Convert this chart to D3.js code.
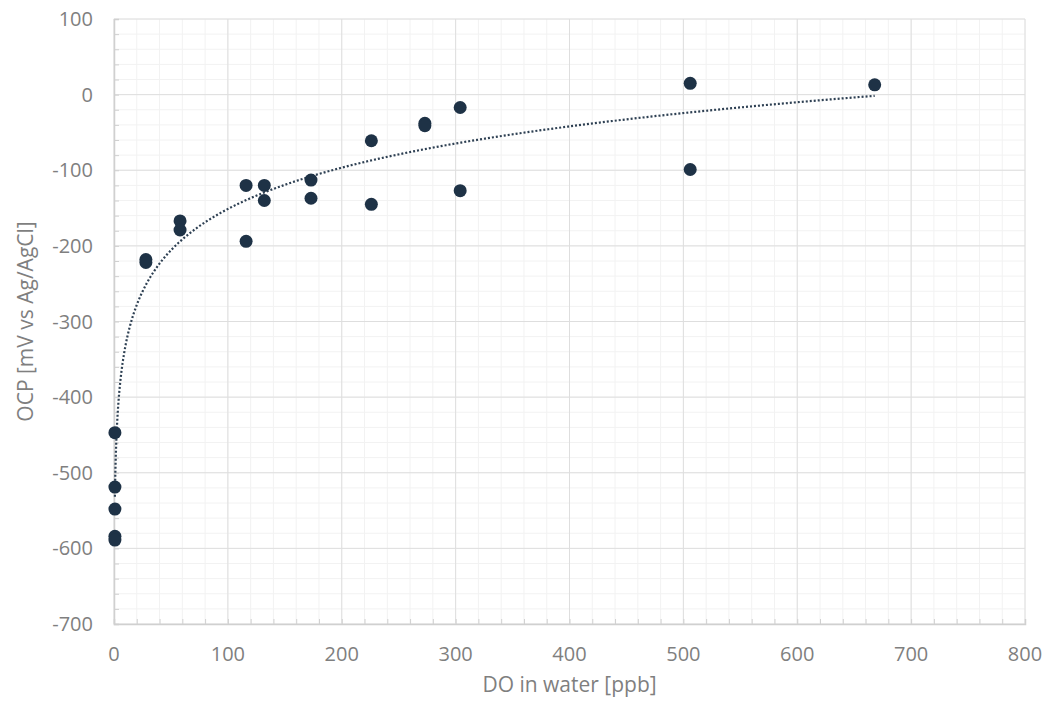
<!DOCTYPE html>
<html lang="en">
<head>
  <meta charset="utf-8">
  <title>OCP vs DO</title>
  <script src="https://cdnjs.cloudflare.com/ajax/libs/d3/7.8.5/d3.min.js"></script>
  <style>
    body { margin: 0; background: #fff; }
    .tick-label { font-family: "Open Sans", Roboto, sans-serif; font-size: 20px; fill: #7f7f7f; }
    .axis-title { font-family: "Open Sans", Roboto, sans-serif; font-size: 21px; fill: #7f7f7f; }
  </style>
</head>
<body>
<svg id="chart" width="1049" height="701"></svg>
<script>
  // data
  var doValues  = [0.8, 0.8, 0.8, 0.8, 0.8, 28, 28, 58, 58, 116, 116, 132, 132, 173, 173, 226, 226, 273, 273, 304, 304, 506, 506, 668];
  var ocpValues = [-447, -519, -548, -584, -589, -218, -222, -167, -179, -120, -194, -120, -140, -113, -137, -61, -145, -38, -41, -17, -127, 15, -99, 13];
  var xTicks = [0, 100, 200, 300, 400, 500, 600, 700, 800];
  var yTicks = [100, 0, -100, -200, -300, -400, -500, -600, -700];

  var margin = { left: 114, right: 24, top: 19, bottom: 77 };
  var width = 1049 - margin.left - margin.right;
  var height = 701 - margin.top - margin.bottom;

  var svg = d3.select("#chart");
  var g = svg.append("g").attr("transform", "translate(" + margin.left + "," + margin.top + ")");

  var x = d3.scaleLinear().domain([0, 800]).range([0, width]);
  var y = d3.scaleLinear().domain([-700, 100]).range([height, 0]);

  // minor grid every 20
  var minor = d3.range(0, 801, 20);
  var minorY = d3.range(-700, 101, 20);
  g.selectAll(".mx").data(minor).enter().append("line")
    .attr("x1", d => x(d)).attr("x2", d => x(d)).attr("y1", 0).attr("y2", height)
    .attr("stroke", "#f2f2f2").attr("stroke-width", 1);
  g.selectAll(".my").data(minorY).enter().append("line")
    .attr("y1", d => y(d)).attr("y2", d => y(d)).attr("x1", 0).attr("x2", width)
    .attr("stroke", "#f2f2f2").attr("stroke-width", 1);

  // major grid
  g.selectAll(".gx").data(xTicks).enter().append("line")
    .attr("x1", d => x(d)).attr("x2", d => x(d)).attr("y1", 0).attr("y2", height)
    .attr("stroke", "#dedede").attr("stroke-width", 1);
  g.selectAll(".gy").data(yTicks).enter().append("line")
    .attr("y1", d => y(d)).attr("y2", d => y(d)).attr("x1", 0).attr("x2", width)
    .attr("stroke", "#dedede").attr("stroke-width", 1);

  // axes with minor ticks pointing into the plot
  g.append("g").attr("transform", "translate(0," + height + ")")
    .call(d3.axisTop(x).tickValues(minor).tickSize(5).tickFormat(""))
    .call(a => a.select(".domain").attr("stroke", "#d0d0d0").attr("stroke-width", 1.5))
    .call(a => a.selectAll(".tick line").attr("stroke", "#d0d0d0"));
  g.append("g")
    .call(d3.axisRight(y).tickValues(minorY).tickSize(5).tickFormat(""))
    .call(a => a.select(".domain").attr("stroke", "#d0d0d0").attr("stroke-width", 1.5))
    .call(a => a.selectAll(".tick line").attr("stroke", "#d0d0d0"));

  // tick labels
  g.selectAll(".xl").data(xTicks).enter().append("text")
    .attr("class", "tick-label").attr("x", d => x(d)).attr("y", height + 37)
    .attr("text-anchor", "middle").text(d => d);
  g.selectAll(".yl").data(yTicks).enter().append("text")
    .attr("class", "tick-label").attr("x", -21).attr("y", d => y(d) + 7)
    .attr("text-anchor", "end").text(d => d);

  // logarithmic trend line (least squares fit on ln x)
  var lx = doValues.map(Math.log);
  var mx = d3.mean(lx), my = d3.mean(ocpValues);
  var a = d3.sum(lx.map((v, i) => (v - mx) * (ocpValues[i] - my))) / d3.sum(lx.map(v => (v - mx) * (v - mx)));
  var b = my - a * mx;
  var xmin = d3.min(doValues), xmax = d3.max(doValues);
  var trendX = d3.range(0, 301).map(i => xmin * Math.pow(xmax / xmin, i / 300));
  var line = d3.line().x(d => x(d)).y(d => y(a * Math.log(d) + b));
  g.append("path").datum(trendX).attr("d", line)
    .attr("fill", "none").attr("stroke", "#2e4053").attr("stroke-width", 2.2)
    .attr("stroke-dasharray", "2,2");

  // points
  g.selectAll(".pt").data(doValues).enter().append("circle")
    .attr("cx", d => x(d)).attr("cy", (d, i) => y(ocpValues[i])).attr("r", 6.5)
    .attr("fill", "#1e3246");

  // axis titles
  svg.append("text").attr("class", "axis-title")
    .attr("x", margin.left + width / 2).attr("y", 692).attr("text-anchor", "middle")
    .text("DO in water [ppb]");
  svg.append("text").attr("class", "axis-title")
    .attr("transform", "translate(33," + (margin.top + height / 2) + ") rotate(-90)")
    .attr("text-anchor", "middle").text("OCP [mV vs Ag/AgCl]");
</script>
</body>
</html>
